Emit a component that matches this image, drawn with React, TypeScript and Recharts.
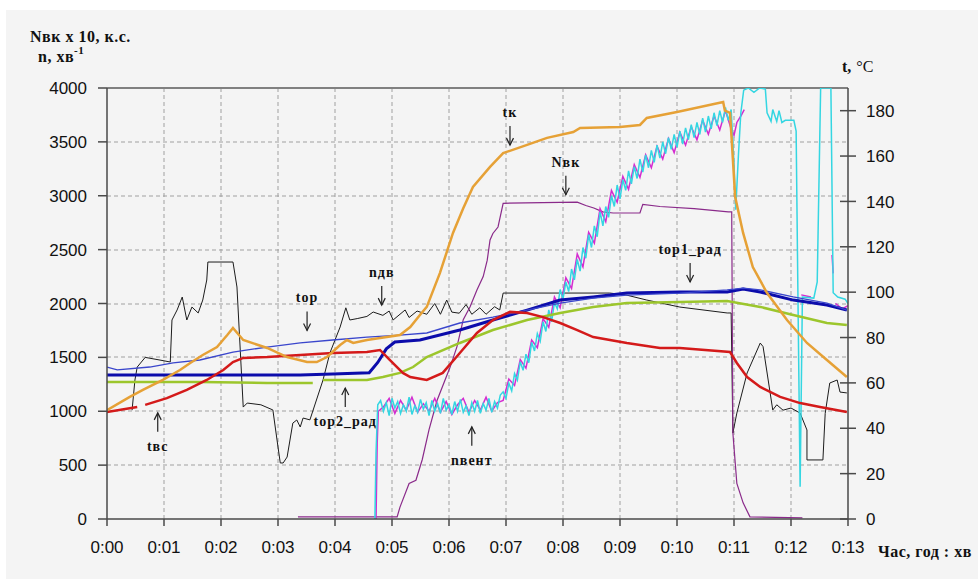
import { LineChart, Line, XAxis, YAxis, ReferenceDot } from "recharts";

// ─── Axes ────────────────────────────────────────────────────────────────────

const minuteTicks = [0, 1, 2, 3, 4, 5, 6, 7, 8, 9, 10, 11, 12, 13];
const minuteLabels = ["0:00", "0:01", "0:02", "0:03", "0:04", "0:05", "0:06", "0:07", "0:08", "0:09", "0:10", "0:11", "0:12", "0:13"];
const leftTicks = [0, 500, 1000, 1500, 2000, 2500, 3000, 3500, 4000];
const rightTicks = [0, 20, 40, 60, 80, 100, 120, 140, 160, 180];

// ─── Series: [time in minutes, value] ────────────────────────────────────────
// n, N on the left axis (rpm, hp x 10), temperatures on the right axis (°C)

type Pt = [number, number | null];

const nDv: Pt[] = [
	[0.44, 1010], [0.49, 1290], [0.53, 1410], [0.67, 1500], [0.93, 1475], [1.11, 1457], [1.14, 1847],
	[1.23, 1940], [1.32, 2060], [1.4, 1847], [1.49, 1967], [1.6, 1912], [1.68, 2032], [1.75, 2218],
	[1.77, 2385], [2.21, 2385], [2.28, 2153], [2.39, 1039], [2.46, 1076], [2.7, 1060], [2.91, 1012],
	[3.0, 668], [3.04, 520], [3.09, 520], [3.16, 575], [3.26, 890], [3.33, 919], [3.39, 854], [3.44, 937],
	[3.56, 920], [3.79, 1290], [3.91, 1540], [4.09, 1782], [4.19, 1960], [4.26, 1847], [4.39, 1860],
	[4.56, 1880], [4.67, 1921], [4.84, 1890], [4.95, 1930], [5.02, 1847], [5.23, 1940], [5.3, 1870],
	[5.44, 1930], [5.61, 1900], [5.75, 2000], [5.85, 1900], [5.96, 2032], [6.05, 1920], [6.18, 1910],
	[6.3, 1990], [6.4, 1900], [6.54, 1960], [6.65, 1900], [6.8, 1970], [6.89, 1940], [6.95, 2097],
	[8.0, 2097], [8.82, 2097], [9.1, 2080], [9.47, 2032], [10.05, 1967], [10.88, 1912], [10.95, 1912],
	[10.98, 798], [11.05, 983], [11.23, 1355], [11.46, 1633], [11.51, 1600], [11.68, 1012], [11.75, 1060],
	[11.86, 1010], [12.0, 1030], [12.16, 983], [12.28, 826], [12.28, 548], [12.56, 548], [12.6, 980],
	[12.68, 1262], [12.81, 1290], [12.86, 1178], [12.98, 1170],
];

const nVk: Pt[] = [
	[3.35, 20], [5.09, 20], [5.14, 110], [5.3, 330], [5.42, 360], [5.53, 550], [5.65, 830], [5.79, 1100],
	[6.02, 1410], [6.14, 1600], [6.25, 1850], [6.37, 1970], [6.49, 2125], [6.6, 2250], [6.67, 2400],
	[6.72, 2590], [6.77, 2650], [6.86, 2710], [6.95, 2930], [8.25, 2940], [8.4, 2910], [8.54, 2886],
	[8.7, 2850], [8.88, 2840], [9.35, 2840], [9.4, 2920], [9.7, 2900], [10.3, 2880], [10.9, 2850],
	[10.96, 2850], [10.98, 800], [11.05, 330], [11.16, 150], [11.28, 20], [12.2, 10],
];

const nVentCyan: Pt[] = [
	[4.7, 0], [4.72, 620], [4.75, 1060],
	[4.8, 1100], [4.85, 1000], [4.9, 1080], [4.95, 960], [5.0, 1120], [5.05, 1030], [5.1, 1090], [5.15, 980],
	[5.2, 1060], [5.25, 1000], [5.3, 1130], [5.35, 970], [5.4, 1050], [5.45, 990], [5.5, 1110], [5.55, 1020],
	[5.6, 1080], [5.65, 960], [5.7, 1100], [5.75, 1000], [5.8, 1070], [5.85, 980], [5.9, 1120], [5.95, 1010],
	[6.0, 1060], [6.05, 970], [6.1, 1090], [6.15, 1000], [6.2, 1110], [6.25, 990], [6.3, 1050], [6.35, 960],
	[6.4, 1080], [6.45, 1000], [6.5, 1100], [6.55, 980], [6.6, 1070], [6.65, 1010], [6.7, 1120], [6.75, 990],
	[6.8, 1090], [6.85, 1030], [6.9, 1150],
	[6.95, 1180], [7.0, 1120], [7.05, 1260], [7.1, 1190], [7.15, 1350], [7.2, 1290], [7.25, 1460], [7.3, 1380],
	[7.35, 1530], [7.4, 1450], [7.45, 1640], [7.5, 1560], [7.55, 1720], [7.6, 1650], [7.65, 1830], [7.7, 1740],
	[7.75, 1940], [7.8, 1830], [7.85, 2010], [7.9, 1950], [7.95, 2130], [8.0, 2040], [8.05, 2200], [8.1, 2110],
	[8.15, 2320], [8.2, 2220], [8.25, 2410], [8.3, 2300], [8.35, 2520], [8.4, 2420], [8.45, 2640], [8.5, 2520],
	[8.55, 2720], [8.6, 2620], [8.65, 2850], [8.7, 2720], [8.75, 2900], [8.8, 2800], [8.85, 3000], [8.9, 2900],
	[8.95, 3100], [9.0, 2970], [9.05, 3150], [9.1, 3050], [9.15, 3230], [9.2, 3110], [9.25, 3270], [9.3, 3160],
	[9.35, 3340], [9.4, 3220], [9.45, 3380], [9.5, 3260], [9.55, 3420], [9.6, 3310], [9.65, 3470], [9.7, 3350],
	[9.75, 3500], [9.8, 3390], [9.85, 3540], [9.9, 3430], [9.95, 3570], [10.0, 3450], [10.05, 3600], [10.1, 3480],
	[10.15, 3630], [10.2, 3520], [10.25, 3660], [10.3, 3540], [10.35, 3680], [10.4, 3570], [10.45, 3720],
	[10.5, 3590], [10.55, 3740], [10.6, 3620], [10.65, 3770], [10.7, 3650], [10.75, 3790], [10.8, 3680],
	[10.85, 3820], [10.9, 3700], [10.95, 3800],
	[11.0, 3300], [11.03, 2870], [11.08, 3400], [11.12, 3770], [11.17, 3980], [11.25, 4000], [11.35, 3960],
	[11.45, 4000], [11.55, 3990], [11.58, 3770], [11.65, 3690], [11.68, 3800], [11.75, 3690], [11.79, 3790],
	[11.84, 3680], [11.9, 3700], [12.05, 3700], [12.09, 3600], [12.12, 2150], [12.16, 300], [12.2, 2060],
	[12.4, 2050], [12.46, 2200], [12.52, 4000], [12.7, 4000], [12.74, 2100], [12.82, 2060], [12.95, 2040],
	[13.0, 2000],
];

const nVentMagenta: Pt[] = [
	[4.72, 0], [4.74, 700], [4.76, 1000],
	[4.85, 1040], [4.95, 1120], [5.05, 980], [5.15, 1100], [5.25, 1010], [5.35, 1130], [5.45, 990],
	[5.55, 1070], [5.65, 1000], [5.75, 1120], [5.85, 990], [5.95, 1090], [6.05, 970], [6.15, 1060],
	[6.25, 1120], [6.35, 990], [6.45, 1100], [6.55, 1010], [6.65, 1130], [6.75, 1000], [6.85, 1080],
	[6.95, 1100], [7.05, 1300], [7.15, 1240], [7.25, 1480], [7.35, 1400], [7.45, 1660], [7.55, 1590],
	[7.65, 1860], [7.75, 1780], [7.85, 2060], [7.95, 1960], [8.05, 2240], [8.15, 2140], [8.25, 2460],
	[8.35, 2340], [8.45, 2660], [8.55, 2560], [8.65, 2880], [8.75, 2760], [8.85, 3050], [8.95, 2940],
	[9.05, 3180], [9.15, 3060], [9.25, 3290], [9.35, 3170], [9.45, 3380], [9.55, 3260], [9.65, 3460],
	[9.75, 3340], [9.85, 3530], [9.95, 3400], [10.05, 3590], [10.15, 3470], [10.25, 3640], [10.35, 3520],
	[10.45, 3700], [10.55, 3570], [10.65, 3740], [10.75, 3610], [10.85, 3790], [10.95, 3620],
	[11.0, 3560], [11.05, 3680], [11.12, 3740], [11.18, 3800], [11.2, null],
	[12.18, 2080], [12.35, 2060], [12.4, null], [12.72, 2450], [12.74, 2280], [12.76, null],
	[12.78, 2000], [12.9, 1950], [13.0, 1980],
];

const tK: Pt[] = [
	[0, 48.0], [0.4, 53.8], [0.63, 56.9], [0.98, 61.3], [1.28, 65.7], [1.46, 68.8], [1.68, 72.3], [1.93, 75.8],
	[2.11, 81.1], [2.21, 84.2], [2.39, 78.9], [2.81, 75.4], [3.16, 71.4], [3.51, 69.2], [3.68, 69.2],
	[3.86, 71.4], [4.09, 76.7], [4.21, 78.9], [4.32, 77.6], [4.56, 78.9], [4.91, 80.2], [5.14, 81.1],
	[5.32, 84.6], [5.49, 89.9], [5.61, 93.5], [5.84, 108.4], [6.07, 126.1], [6.25, 137.0], [6.42, 146.4],
	[6.72, 155.2], [6.95, 161.3], [7.37, 164.9], [7.72, 168.0], [8.18, 170.6], [8.3, 172.4], [9.0, 172.8],
	[9.35, 173.7], [9.47, 176.8], [10.0, 179.4], [10.81, 183.8], [10.84, 180], [10.93, 179], [10.96, 167],
	[11.02, 142], [11.16, 126.1], [11.33, 111.1], [11.58, 99.6], [11.93, 87.7], [12.28, 77.6], [12.63, 70.1],
	[12.98, 62.6],
];

const tVs: Pt[] = [
	[0, 47.2], [0.53, 49.4], [0.6, null], [0.67, 50.3], [1.05, 53.3], [1.4, 56.9], [1.75, 61.3], [2.04, 65.7],
	[2.21, 69.2], [2.39, 71.0], [2.81, 71.4], [3.39, 72.3], [3.96, 73.2], [4.56, 73.6], [4.79, 74.5],
	[4.96, 70.1], [5.19, 64.4], [5.32, 62.6], [5.61, 61.3], [5.89, 64.4], [6.19, 73.2], [6.49, 82.0],
	[6.77, 87.7], [7.07, 91.3], [7.37, 90.8], [7.65, 89.0], [7.95, 86.4], [8.25, 83.3], [8.53, 80.2],
	[9.12, 77.6], [9.7, 75.4], [10.05, 75.4], [10.93, 73.6], [11.05, 68.8], [11.23, 62.6], [11.46, 58.2],
	[11.81, 53.8], [12.16, 51.1], [12.51, 49.4], [12.98, 47.2],
];

const tOr: Pt[] = [
	[0, 67.0], [0.18, 65.7], [0.75, 67.0], [1.16, 68.8], [1.63, 70.1], [2.21, 73.6], [2.81, 75.8], [3.39, 77.6],
	[3.96, 78.9], [4.56, 80.2], [5.14, 81.1], [5.61, 82.0], [6.19, 86.4], [6.77, 89.0], [7.37, 92.1],
	[7.95, 95.2], [8.53, 97.4], [9.12, 98.7], [10.05, 99.6], [10.88, 101.0], [11.16, 101.8], [11.46, 101.0],
	[12.04, 97.9], [12.63, 95.2], [12.98, 92.1],
];

const tOr1Rad: Pt[] = [
	[0, 63.5], [3.39, 63.5], [3.96, 63.9], [4.6, 64.5], [4.75, 69.0], [4.9, 75.0], [5.05, 78.0], [5.49, 78.9],
	[6.19, 83.3], [6.77, 87.7], [7.37, 92.1], [7.95, 96.5], [8.53, 97.9], [9.12, 99.6], [10.05, 100.1],
	[10.88, 100.1], [11.16, 101.4], [11.46, 100.1], [12.04, 96.5], [12.63, 94.3], [12.98, 92.1],
];

const tOr2Rad: Pt[] = [
	[0, 60.4], [1.63, 60.4], [2.81, 60.0], [3.61, 60.0], [3.7, null], [3.79, 61.3], [4.56, 61.3], [4.84, 62.6],
	[5.14, 64.4], [5.37, 67.0], [5.61, 71.4], [6.19, 77.6], [6.77, 83.3], [7.37, 87.7], [7.95, 90.8],
	[8.53, 93.5], [9.12, 95.2], [10.05, 95.7], [10.88, 96.1], [11.46, 93.5], [12.04, 89.9], [12.63, 86.4],
	[12.98, 85.5],
];

// Curve labels with arrows: the arrow tip sits on (t, v) in left-axis units
const pointers = [
	{ label: "tк", t: 7.07, v: 3470, dir: "down" },
	{ label: "Nвк", t: 8.05, v: 3010, dir: "down" },
	{ label: "tор1_рад", t: 10.23, v: 2200, dir: "down" },
	{ label: "tор", t: 3.51, v: 1750, dir: "down" },
	{ label: "nдв", t: 4.82, v: 1985, dir: "down" },
	{ label: "tор2_рад", t: 4.18, v: 1215, dir: "up" },
	{ label: "tвс", t: 0.89, v: 985, dir: "up" },
	{ label: "nвент", t: 6.4, v: 855, dir: "up" },
];

// ─── Layout & styles ─────────────────────────────────────────────────────────

const W = 978;
const H = 579;
const MARGIN = { top: 88, right: 0, bottom: 30, left: 0 };
const LEFT_W = 107;
const RIGHT_W = 130;
const X_H = 30;
const PLOT_X = MARGIN.left + LEFT_W;
const PLOT_Y = MARGIN.top;
const PLOT_W = W - MARGIN.left - MARGIN.right - LEFT_W - RIGHT_W;
const PLOT_H = H - MARGIN.top - MARGIN.bottom - X_H;

const sans = "'Liberation Sans', Arial, sans-serif";
const serif = "'Liberation Serif', 'Times New Roman', serif";
const axisStroke = "#4a4a4a";
const gridColor = "#a0a0a0";
const frameColor = "#808080";
const tickFont = { fontFamily: sans, fontSize: 17, fill: "#111" };

const X_TICK = 7;
const X_MARGIN = 14;
const R_TICK = 8;
const R_MARGIN = 10;

const xMin = minuteTicks[0];
const xMax = minuteTicks[minuteTicks.length - 1];
const yMin = leftTicks[0];
const yMax = leftTicks[leftTicks.length - 1];

// Grid under the chart, laid out on the same linear frame as the plot area.
// Drawn as thin filled rects with a dash pattern instead of stroked lines.
const gridX = (m: number) => PLOT_X + ((m - xMin) / (xMax - xMin)) * PLOT_W;
const gridY = (v: number) => PLOT_Y + (1 - (v - yMin) / (yMax - yMin)) * PLOT_H;

const toRows = (pts: Pt[]) => pts.map(([t, v]) => ({ t, v }));

const series = [
	{ key: "nDv", data: nDv, axis: "left", color: "#1c1c1c", width: 1 },
	{ key: "nVk", data: nVk, axis: "left", color: "#8a2a8a", width: 1.2 },
	{ key: "nVentM", data: nVentMagenta, axis: "left", color: "#d42cd0", width: 1.5 },
	{ key: "nVentC", data: nVentCyan, axis: "left", color: "#34d6e2", width: 1.5 },
	{ key: "tOr2", data: tOr2Rad, axis: "right", color: "#9cc62c", width: 2.5 },
	{ key: "tOr1", data: tOr1Rad, axis: "right", color: "#0c0cab", width: 3 },
	{ key: "tOr", data: tOr, axis: "right", color: "#3a46cc", width: 1.3 },
	{ key: "tVs", data: tVs, axis: "right", color: "#d41a1a", width: 2.5 },
	{ key: "tK", data: tK, axis: "right", color: "#e6a136", width: 2.5 },
];

function BottomTick(props: any) {
	const { x, y, payload } = props;
	return (
		<text x={x} y={y} dy="0.75em" textAnchor="middle" {...tickFont}>
			{minuteLabels[minuteTicks.indexOf(Number(payload.value))]}
		</text>
	);
}

function RightTick(props: any) {
	const { x, y, payload } = props;
	const ax = x - R_TICK - R_MARGIN;
	return (
		<g>
			<rect x={ax - 8} y={y - 0.75} width={16} height={1.5} fill={axisStroke} />
			<text x={x} y={y} dy="0.36em" textAnchor="start" {...tickFont}>
				{payload.value}
			</text>
		</g>
	);
}

function Pointer({ cx, cy, label, dir }: { cx: number; cy: number; label: string; dir: string }) {
	const s = dir === "up" ? 1 : -1;
	return (
		<g>
			<line x1={cx} y1={cy + s * 19} x2={cx} y2={cy} stroke="#222" strokeWidth={1.2} />
			<path
				d={`M${cx - 3.5},${cy + s * 7} L${cx},${cy} L${cx + 3.5},${cy + s * 7}`}
				fill="none"
				stroke="#222"
				strokeWidth={1.2}
			/>
			<text
				x={cx}
				y={cy + s * 33}
				dy="0.35em"
				textAnchor="middle"
				fontFamily={serif}
				fontWeight="bold"
				fontSize={14}
				letterSpacing={1}
				fill="#111"
			>
				{label}
			</text>
		</g>
	);
}

export default function App() {
	return (
		<div style={{ position: "relative", width: W, height: H, background: "#fff" }}>
			<style>{"body{margin:0;background:#fff}"}</style>
			<div style={{ position: "absolute", left: 6, top: 10, right: 0, bottom: 0, background: "#f4f4f4" }} />
			<svg width={W} height={H} style={{ position: "absolute", left: 0, top: 0 }}>
				<defs>
					<pattern id="grid-dash-h" x={PLOT_X} y={0} width={7} height={2} patternUnits="userSpaceOnUse">
						<rect x={0} y={0} width={4} height={2} fill={gridColor} />
					</pattern>
					<pattern id="grid-dash-v" x={0} y={PLOT_Y} width={2} height={7} patternUnits="userSpaceOnUse">
						<rect x={0} y={0} width={2} height={4} fill={gridColor} />
					</pattern>
				</defs>
				{leftTicks.slice(1, -1).map((v) => (
					<rect
						key={`gy-${v}`}
						x={gridX(xMin)}
						y={Math.round(gridY(v)) - 0.5}
						width={PLOT_W}
						height={1}
						fill="url(#grid-dash-h)"
					/>
				))}
				{minuteTicks.slice(1, -1).map((m) => (
					<rect
						key={`gx-${m}`}
						x={Math.round(gridX(m)) - 0.5}
						y={gridY(yMax)}
						width={1}
						height={PLOT_H}
						fill="url(#grid-dash-v)"
					/>
				))}
				<rect x={gridX(xMin)} y={gridY(yMax) - 1} width={PLOT_W} height={2} fill={frameColor} />
			</svg>
			<div style={{ position: "absolute", left: 0, top: 0 }}>
				<LineChart width={W} height={H} margin={MARGIN}>
					<XAxis
						dataKey="t"
						type="number"
						domain={[xMin, xMax]}
						ticks={minuteTicks}
						allowDataOverflow
						height={X_H}
						tickSize={X_TICK}
						tickMargin={X_MARGIN}
						tick={<BottomTick />}
						axisLine={{ stroke: axisStroke, strokeWidth: 1.5 }}
						tickLine={{ stroke: axisStroke, strokeWidth: 1.5 }}
					/>
					<YAxis
						yAxisId="left"
						domain={[yMin, yMax]}
						ticks={leftTicks}
						allowDataOverflow
						width={LEFT_W}
						tickSize={9}
						tickMargin={11}
						tick={tickFont}
						axisLine={{ stroke: axisStroke, strokeWidth: 1.5 }}
						tickLine={{ stroke: axisStroke, strokeWidth: 1.5 }}
					/>
					<YAxis
						yAxisId="right"
						orientation="right"
						domain={[0, 190]}
						ticks={rightTicks}
						allowDataOverflow
						width={RIGHT_W}
						tickSize={R_TICK}
						tickMargin={R_MARGIN}
						tick={<RightTick />}
						tickLine={false}
						axisLine={{ stroke: axisStroke, strokeWidth: 1.5 }}
					/>
					{series.map((s) => (
						<Line
							key={s.key}
							yAxisId={s.axis}
							data={toRows(s.data)}
							dataKey="v"
							type="linear"
							stroke={s.color}
							strokeWidth={s.width}
							dot={false}
							activeDot={false}
							isAnimationActive={false}
						/>
					))}
					{pointers.map((p) => (
						<ReferenceDot
							key={p.label}
							yAxisId="left"
							x={p.t}
							y={p.v}
							r={0}
							ifOverflow="visible"
							shape={(dp: any) => <Pointer cx={dp.cx} cy={dp.cy} label={p.label} dir={p.dir} />}
						/>
					))}
				</LineChart>
			</div>
			<svg width={W} height={H} style={{ position: "absolute", left: 0, top: 0, pointerEvents: "none" }}>
				<text x={30} y={42} fontFamily={serif} fontWeight="bold" fontSize={16} letterSpacing={0.5} fill="#111">
					Nвк x 10, к.с.
				</text>
				<text x={38} y={62} fontFamily={serif} fontWeight="bold" fontSize={16} letterSpacing={0.5} fill="#111">
					n, хв
					<tspan fontSize={11} dy={-8}>
						-1
					</tspan>
				</text>
				<text x={842} y={72} fontFamily={serif} fontSize={16} fill="#111">
					<tspan fontWeight="bold">t,</tspan>
					<tspan dx={5}>°C</tspan>
				</text>
				<text x={878} y={557} fontFamily={serif} fontWeight="bold" fontSize={16} letterSpacing={0.5} fill="#111">
					Час, год : хв
				</text>
			</svg>
		</div>
	);
}
